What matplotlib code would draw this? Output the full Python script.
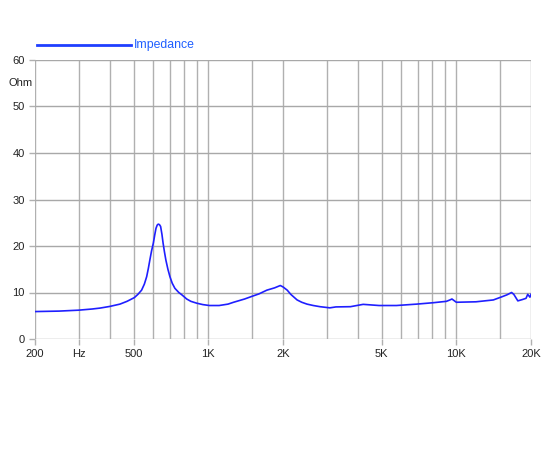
import matplotlib
matplotlib.use("Agg")
import matplotlib.pyplot as plt
from matplotlib.lines import Line2D

plt.rcParams['font.family'] = ['Liberation Sans', 'DejaVu Sans']

# impedance curve
freq = [200, 250, 300, 340, 366, 400, 440, 470, 503, 520, 538, 552, 564,
        573, 581, 590, 600, 608, 615, 622, 628, 635, 642, 650, 657, 665,
        674, 687, 700, 715, 733, 760, 782, 818, 850, 898, 950, 1010, 1105,
        1200, 1264, 1400, 1504, 1600, 1721, 1850, 1950, 2000, 2080, 2150,
        2280, 2380, 2500, 2650, 2820, 3090, 3270, 3740, 4210, 4880, 5730,
        6910, 8060, 9120, 9420, 9600, 10000, 12000, 14100, 15300, 16000,
        16700, 17050, 17700, 18500, 19100, 19400, 19800, 20000]
ohm = [5.9, 6.0, 6.2, 6.45, 6.65, 7.0, 7.5, 8.1, 8.9, 9.6, 10.5, 11.8, 13.4,
       15.2, 17.0, 18.9, 20.6, 22.4, 23.8, 24.5, 24.7, 24.6, 24.2, 22.5,
       20.6, 18.8, 17.0, 15.0, 13.4, 12.0, 10.9, 10.0, 9.5, 8.6, 8.1, 7.7,
       7.4, 7.2, 7.2, 7.5, 7.9, 8.6, 9.2, 9.7, 10.5, 11.0, 11.5, 11.2,
       10.5, 9.6, 8.4, 7.9, 7.5, 7.2, 6.95, 6.7, 6.9, 6.95, 7.45, 7.2,
       7.2, 7.5, 7.8, 8.1, 8.4, 8.6, 7.9, 8.0, 8.4, 9.1, 9.5, 10.0, 9.6,
       8.2, 8.5, 8.75, 9.6, 9.0, 9.6]

grid_freqs = [200, 300, 400, 500, 600, 700, 800, 900, 1000, 1500, 2000,
              3000, 4000, 5000, 6000, 7000, 8000, 9000, 10000, 15000, 20000]
x_ticks = [200, 300, 500, 1000, 2000, 5000, 10000, 20000]
x_labels = ['200', 'Hz', '500', '1K', '2K', '5K', '10K', '20K']
y_ticks = [0, 10, 20, 30, 40, 50, 60]

fig = plt.figure(figsize=(5.5, 4.5), dpi=100)
ax = fig.add_axes([35 / 550, 1 - 339 / 450, 496 / 550, 279 / 450])

ax.set_xscale('log')
ax.set_xlim(200, 20000)
ax.set_ylim(0, 60)

# grid
for f in grid_freqs:
    ax.axvline(f, color='#b0b0b0', lw=1, zorder=1)
for v in y_ticks:
    ax.axhline(v, color='#a8a8a8', lw=1, zorder=1)

ax.plot(freq, ohm, color='#1f1fff', lw=1.2, zorder=3,
        solid_joinstyle='round')

ax.xaxis.set_minor_locator(matplotlib.ticker.NullLocator())
ax.set_xticks(x_ticks)
ax.set_xticklabels(x_labels)
ax.set_yticks(y_ticks)
ax.tick_params(axis='both', labelsize=8, colors='#b0b0b0', labelcolor='#222222',
               length=4, width=1)
for s in ax.spines.values():
    s.set_visible(False)

fig.text(33 / 550, 1 - 83 / 450, 'Ohm', ha='right', va='center', fontsize=8,
         color='#222222')

# legend
fig.add_artist(Line2D([37 / 550, 131 / 550], [1 - 45 / 450, 1 - 45 / 450],
                      color='#1f3fff', lw=2))
fig.text(134 / 550, 1 - 45 / 450, 'Impedance', ha='left', va='center',
         fontsize=8.8, color='#1f5fff')

fig.savefig('out.png', dpi=100)
